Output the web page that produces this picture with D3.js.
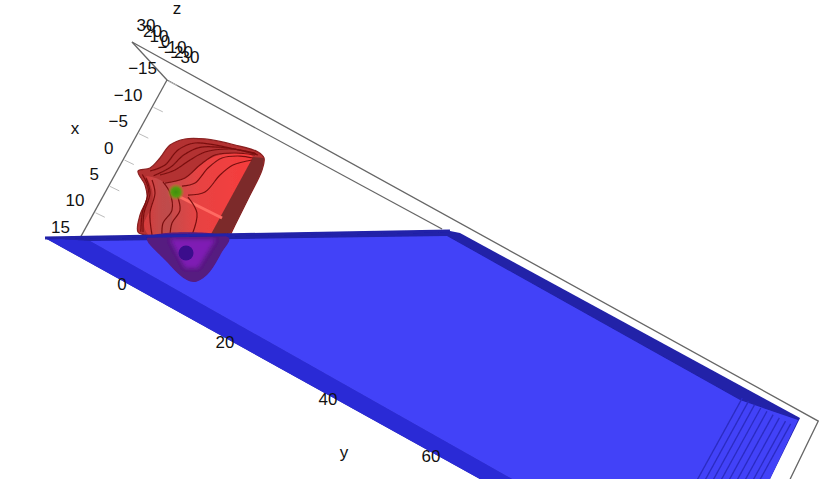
<!DOCTYPE html>
<html><head><meta charset="utf-8">
<style>html,body{margin:0;padding:0;background:#fff;overflow:hidden}text{font-family:"Liberation Sans",Arial,sans-serif;fill:#111}</style>
<script src="https://cdn.jsdelivr.net/npm/d3@7"></script></head><body><div id="c"></div>
<script>
// Axis tick values
const xTicks=[-15,-10,-5,0,5,10,15];
const yTicks=[0,20,40,60];
const zTicks=[30,20,10,0,-10,-20,-30];
const zMin=-30,zMax=30,xMin=-15,xMax=15,yMin=-11;
// Box edges as [x,y,z]
const boxBackTop=[[-15,-11,30],[-13.15,123.3,30],[-2.44,123.87,30]];
const boxBackLow=[[-15,-11,-30],[-14.69,42.58,-30]];
const boxShort=[[-15,-11,-30],[-15,-11,30]];
const boxLeft=[[-15,-11,-30],[15,-11,-30]];
// Flat plate as [x,y]
const plateOuter=[[17.72,-16.26],[-15.01,43.94],[-15.5,45.61],[-15,111.92],[-3.7,112.45],[19.68,112.45]];
const plateBand=[[17.72,-16.26],[14.64,-9.26],[17.36,112.45],[19.68,112.45]];
const plateInner=[[14.64,-9.26],[-14.05,43.9],[-12.94,101.43],[-14.55,111.78],[-3.7,112.45],[17.36,112.45]];
const plateStripesY=[101.6,102.8,104,105.2,106.4,107.6,108.8,110,111];
const stripeX=[-13.4,18];
// Solid body as [x,y]
const bodyOutline=[[0.62,-7.83],[-0.76,-6.28],[-3.01,-5.61],[-5.7,-5.18],[-7.76,-3.43],[-9.33,-0.43],[-10.8,4.58],[-11.57,8.61],[-11.16,10],[-9.24,10.69],[-4.63,10.96],[0.94,11.19],[5.92,11.46],[10.24,11.17],[12.44,9.88],[12.78,8.14],[11.56,3.57],[9.36,-0.58],[9.56,-2.8],[6.91,-3.9],[3.88,-4.25],[2.12,-5.63]];
const bodyFace=[[0.27,-3.18],[-1.05,-1.01],[-3.32,0.43],[-5.65,1.26],[-8.15,3.14],[-10.44,8.27],[4.51,8.33],[7.65,2.33],[4.41,0.9]];
const bodyLeft=[[0.72,-6.22],[0.27,-3.18],[4.41,0.9],[7.65,2.33],[9.21,-0.67],[8.07,-2.47],[4.5,-2.93],[2.3,-4.16]];
const bodyRight=[[-10.44,8.27],[-11.16,10],[-9.24,10.69],[-4.63,10.96],[0.94,11.19],[3.1,11.03],[4.51,8.33]];
const bodyBelow=[[9.74,-0.95],[11.56,3.57],[12.78,8.14],[12.44,9.88],[10.24,11.17],[5.92,11.46],[3.31,11.35]];
const bodyBelowInner=[[8.09,2.58],[4.48,9.48],[10.14,9.18],[11.16,7.23]];
const ridge=[[1.14,0.61],[0.93,8.65]];
const dotGreen=[0.73,-0.4];
const dotDark=[8.88,6.14];
const contours=[
 [[-0.32,-6.03],[-2.37,-4.28],[-5.59,-3.57],[-7.95,-1.6],[-9.96,4.07],[-11.13,8.85]],
 [[0.1,-5.1],[-2.4,-3.3],[-5.3,-2.3],[-7.7,-0.5],[-9.9,4.1],[-11.15,8.5]],
 [[-0.52,-4.2],[-2.43,-2.37],[-5.07,-0.94],[-7.42,0.65],[-9.81,4.15],[-11.18,8.24]],
 [[0.27,-2.79],[-2.04,-0.21],[-5.11,0.97],[-7.76,2.39],[-9.62,5.24],[-10.89,8.4]],
 [[-0.62,0],[-2.08,1.71],[-5.3,2.42],[-7.87,3.69],[-9.57,6.24],[-10.29,8.35]],
 [[0.23,1.65],[-1.55,3.95],[-5.22,4.8],[-7.7,5.93],[-9.93,8.37]],
 [[0.27,-3.18],[1.34,-1.22],[3.68,0.49],[6.28,0.21],[8.12,1.05]],
 [[1.09,0],[3.05,1.69],[5.58,1.56],[7.5,2.25]],
 [[0.52,1.81],[2.16,4.48],[5.77,5.55]],
 [[0.84,-4.99],[2.51,-3.47],[5.84,-2.57],[8.9,-0.45]],
 [[1.01,-6.06],[2.9,-4.22],[6.31,-3.47],[9.17,-2.05]],
 [[0.8,-6.9],[2.6,-4.7],[6.5,-3.7],[9.3,-2.4]]
];

const W=825,H=479;
const svg=d3.select("#c").append("svg").attr("width",W).attr("height",H).style("display","block");
const xToPx=d3.scaleLinear().domain([xMin,xMax]).range([0,-87]);
const xToPy=d3.scaleLinear().domain([xMin,xMax]).range([0,158.1]);
const yToPx=d3.scaleLinear().domain([yMin,100]).range([167,738.65]);
const yToPy=d3.scaleLinear().domain([yMin,100]).range([80,385.25]);
const zToPx=d3.scaleLinear().domain([zMin,zMax]).range([0,-35]);
const zToPy=d3.scaleLinear().domain([zMin,zMax]).range([0,-38]);
const P=(x,y,z=zMin)=>[xToPx(x)+yToPx(y)+zToPx(z),xToPy(x)+yToPy(y)+zToPy(z)];
const poly=a=>d3.line().curve(d3.curveLinearClosed)(a.map(d=>P(d[0],d[1],d[2]??zMin)));
const open=a=>d3.line()(a.map(d=>P(d[0],d[1],d[2]??zMin)));
const smooth=a=>d3.line().curve(d3.curveCatmullRom.alpha(0.5))(a.map(d=>P(d[0],d[1])));
const smoothClosed=a=>d3.line().curve(d3.curveCatmullRomClosed.alpha(0.5))(a.map(d=>P(d[0],d[1])));

const defs=svg.append("defs");
defs.append("filter").attr("id","soft").append("feGaussianBlur").attr("stdDeviation",0.5);
defs.append("filter").attr("id","softer").attr("x","-30%").attr("y","-30%").attr("width","160%").attr("height","160%").append("feGaussianBlur").attr("stdDeviation",2);
const g1=defs.append("linearGradient").attr("id","faceG").attr("x1","0").attr("x2","1").attr("y1","0.3").attr("y2","0.3");
g1.append("stop").attr("offset","0").attr("stop-color","#bd4c4c");
g1.append("stop").attr("offset","0.4").attr("stop-color","#e84343");
g1.append("stop").attr("offset","1").attr("stop-color","#f73c3c");
const g2=defs.append("linearGradient").attr("id","leftG").attr("x1","0").attr("x2","1").attr("y1","0").attr("y2","0");
g2.append("stop").attr("offset","0").attr("stop-color","#d83c3c");
g2.append("stop").attr("offset","0.6").attr("stop-color","#c24a4a");
g2.append("stop").attr("offset","1").attr("stop-color","#bd4c4c");
const g3=defs.append("radialGradient").attr("id","greenG");
g3.append("stop").attr("offset","0").attr("stop-color","#3f8f0c");
g3.append("stop").attr("offset","0.55").attr("stop-color","#559a10");
g3.append("stop").attr("offset","1").attr("stop-color","#b0802a").attr("stop-opacity",0.3);

// Box
const boxG=svg.append("g").attr("fill","none").attr("stroke","#666").attr("stroke-width",1.3);
[boxBackTop,boxBackLow,boxShort,boxLeft].forEach(e=>boxG.append("path").attr("d",open(e)));
xTicks.slice(0,-1).forEach(v=>{
  svg.append("line").attr("stroke","#bbb").attr("stroke-width",1)
    .attr("x1",P(v,yMin)[0]+1).attr("y1",P(v,yMin)[1]+1).attr("x2",P(v,yMin+2)[0]).attr("y2",P(v,yMin+2)[1]);
});

// Body
const body=svg.append("g").attr("filter","url(#soft)");
body.append("path").attr("d",smoothClosed(bodyOutline)).attr("fill","#b33030").attr("stroke","#8a2020").attr("stroke-width",1.2);
body.append("path").attr("d",smooth(bodyLeft.concat([bodyLeft[0]]))).attr("fill","url(#leftG)");
body.append("path").attr("d",smooth(bodyFace.concat([bodyFace[0]]))).attr("fill","url(#faceG)");
body.append("path").attr("d",poly(bodyRight)).attr("fill","#7c2c2c");
body.append("path").attr("d",open(ridge)).attr("stroke","#ff6a62").attr("stroke-width",3).attr("fill","none");
body.selectAll("path.c").data(contours).join("path").attr("class","c").attr("d",smooth).attr("fill","none").attr("stroke","#7a1010").attr("stroke-width",1.2);
body.append("circle").attr("cx",P(...dotGreen)[0]).attr("cy",P(...dotGreen)[1]).attr("r",8).attr("fill","url(#greenG)");

// Plate
const plate=svg.append("g").attr("filter","url(#soft)");
plate.append("path").attr("d",poly(plateOuter)).attr("fill","#2020a8");
plate.append("path").attr("d",poly(plateBand)).attr("fill","#2c2cd6");
plate.append("path").attr("d",poly(plateInner)).attr("fill","#4343f8");
plate.selectAll("path.s").data(plateStripesY).join("path").attr("class","s")
  .attr("d",y=>open(stripeX.map(x=>[x,y]))).attr("stroke","#2c2cc4").attr("stroke-width",1.4).attr("fill","none");

// Body seen through the plate
const under=svg.append("g").attr("filter","url(#soft)");
under.append("path").attr("d",smoothClosed(bodyBelow)).attr("fill","#561a80");
under.append("path").attr("d",poly(bodyBelowInner)).attr("fill","#7f1fb4").attr("filter","url(#softer)");
under.append("circle").attr("cx",P(...dotDark)[0]).attr("cy",P(...dotDark)[1]).attr("r",7.5).attr("fill","#3a0f8c");
under.append("path").attr("d",open([plateOuter[0],plateOuter[1]])).attr("stroke","#2020a8").attr("stroke-width",3).attr("fill","none");

// Text
const fs=17;
svg.selectAll("text.x").data(xTicks).join("text").attr("class","x").text(d=>d<0?"\u2212"+(-d):d)
  .attr("x",d=>P(d,yMin)[0]-10).attr("y",d=>P(d,yMin)[1]-10).attr("text-anchor","end").attr("dominant-baseline","middle").attr("font-size",fs);
const yLX=d3.scaleLinear().domain([0,60]).range([122,431]);
const yLY=d3.scaleLinear().domain([0,60]).range([286,458]);
svg.selectAll("text.y").data(yTicks).join("text").attr("class","y").text(d=>d)
  .attr("x",d=>yLX(d)).attr("y",d=>yLY(d)).attr("text-anchor","middle").attr("dominant-baseline","middle").attr("font-size",fs);
const zLX=d3.scaleLinear().domain([zMax,zMin]).range([146,185]);
const zLY=d3.scaleLinear().domain([zMax,zMin]).range([27,59]);
svg.selectAll("text.z").data(zTicks).join("text").attr("class","z").text(d=>d<0?"\u2212"+(-d):d)
  .attr("x",d=>zLX(d)).attr("y",d=>zLY(d)).attr("text-anchor","middle").attr("dominant-baseline","middle").attr("font-size",fs);
[["x",75,130],["y",344,454],["z",177,10]].forEach(t=>svg.append("text").text(t[0]).attr("x",t[1]).attr("y",t[2]).attr("text-anchor","middle").attr("dominant-baseline","middle").attr("font-size",fs));
</script></body></html>
